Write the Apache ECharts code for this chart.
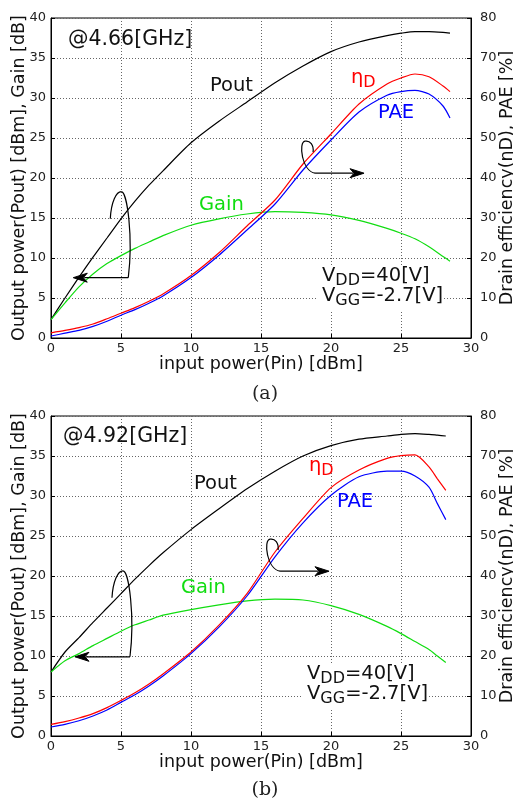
<!DOCTYPE html>
<html>
<head>
<meta charset="utf-8">
<script src="https://cdn.jsdelivr.net/npm/echarts@6/dist/echarts.min.js"></script>
<style>
html, body { margin: 0; padding: 0; background: #fff; }
#main { width: 513px; height: 804px; }
</style>
</head>
<body>
<div id="main"></div>
<script>
"use strict";
// (a) @4.66GHz
var pinA  = [0, 1, 2, 3, 4, 5, 6, 7, 8, 10, 12, 14, 16, 18, 20, 22, 24, 25, 26, 27, 28, 28.5];
var poutA = [2.3, 5.0, 7.6, 10.1, 12.5, 14.9, 17.1, 19.1, 20.9, 24.4, 27.1, 29.5, 31.9, 34.0, 35.8, 37.0, 37.8, 38.1, 38.3, 38.3, 38.2, 38.1];
var gainA = [2.3, 4.4, 6.4, 8.0, 9.3, 10.3, 11.2, 12.0, 12.8, 14.1, 14.9, 15.5, 15.8, 15.7, 15.4, 14.7, 13.7, 13.1, 12.4, 11.4, 10.2, 9.6];
var etaA  = [1.3, 1.9, 2.6, 3.5, 4.8, 6.2, 7.6, 9.2, 11.0, 15.6, 21.3, 28.0, 34.5, 43.5, 51.0, 58.5, 63.5, 65.0, 66.0, 65.3, 63.0, 61.6];
var paeA  = [0.5, 1.2, 1.9, 2.9, 4.2, 5.7, 7.1, 8.7, 10.5, 15.1, 20.7, 27.0, 33.5, 42.0, 49.5, 56.5, 60.7, 61.6, 61.9, 61.0, 58.0, 55.0];

// (b) @4.92GHz
var pinB  = [0, 1, 2, 3, 4, 5, 6, 7, 8, 10, 12, 14, 16, 18, 20, 22, 24, 25, 26, 27, 27.6, 28.2];
var poutB = [8.0, 10.5, 12.3, 14.2, 16.0, 17.8, 19.6, 21.3, 22.9, 25.8, 28.4, 30.9, 33.1, 35.0, 36.3, 37.1, 37.5, 37.7, 37.8, 37.7, 37.6, 37.5];
var gainB = [8.0, 9.4, 10.3, 11.3, 12.2, 13.1, 13.9, 14.5, 15.1, 15.8, 16.4, 16.9, 17.1, 17.0, 16.3, 15.2, 13.7, 12.8, 11.8, 10.8, 10.0, 9.2];
var etaB  = [2.9, 3.6, 4.5, 5.6, 7.1, 8.9, 10.8, 13.0, 15.5, 21.0, 27.7, 35.6, 46.0, 54.4, 62.1, 66.5, 69.4, 70.1, 70.3, 67.3, 64.3, 61.4];
var paeB  = [2.25, 2.9, 3.8, 5.0, 6.5, 8.4, 10.3, 12.5, 15.0, 20.6, 27.2, 35.0, 44.8, 53.3, 60.2, 64.8, 66.2, 66.2, 65.0, 62.2, 58.1, 54.1];

var freqLabels = ['@4.66[GHz]', '@4.92[GHz]'];
var captions = ['(a)', '(b)'];

var FONT = 'DejaVu Sans';
var GREEN = '#11dd11';
var GRIDLINE = { color: '#666', type: [1, 2], width: 1 };

function pairs(xs, ys) {
	return xs.map(function (x, i) { return [x, ys[i]]; });
}

function xAx(gi) {
	return {
		type: 'value', gridIndex: gi, min: 0, max: 30, interval: 5,
		name: 'input power(Pin) [dBm]', nameLocation: 'middle', nameGap: 17, nameMoveOverlap: false,
		nameTextStyle: { fontFamily: FONT, fontSize: 17.5, color: '#111' },
		axisLine: { lineStyle: { color: '#000', width: 1 } },
		axisTick: { inside: true, length: 4, lineStyle: { color: '#000' } },
		axisLabel: { fontFamily: FONT, fontSize: 13, color: '#222', margin: 4 },
		splitLine: { show: true, lineStyle: GRIDLINE }
	};
}

function yLeft(gi) {
	return {
		type: 'value', gridIndex: gi, position: 'left', min: 0, max: 40, interval: 5,
		name: 'Output power(Pout) [dBm], Gain [dB]', nameLocation: 'middle', nameGap: 23, nameMoveOverlap: false,
		nameRotate: 90,
		nameTextStyle: { fontFamily: FONT, fontSize: 17.5, color: '#111' },
		axisLine: { show: true, lineStyle: { color: '#000', width: 1 } },
		axisTick: { show: true, inside: true, length: 4, lineStyle: { color: '#000' } },
		axisLabel: { fontFamily: FONT, fontSize: 13, color: '#222', margin: 5 },
		splitLine: { show: true, lineStyle: GRIDLINE }
	};
}

function yRight(gi) {
	return {
		type: 'value', gridIndex: gi, position: 'right', min: 0, max: 80, interval: 10,
		name: 'Drain efficiency(ηD), PAE [%]', nameLocation: 'middle', nameGap: 27, nameMoveOverlap: false,
		nameRotate: 90,
		nameTextStyle: { fontFamily: FONT, fontSize: 17.5, color: '#111' },
		axisLine: { show: true, lineStyle: { color: '#000', width: 1 } },
		axisTick: { show: true, inside: true, length: 4, lineStyle: { color: '#000' } },
		axisLabel: { fontFamily: FONT, fontSize: 13, color: '#222', margin: 9 },
		splitLine: { show: false }
	};
}

function line(name, xi, yi, xs, ys, color) {
	return {
		name: name, type: 'line', xAxisIndex: xi, yAxisIndex: yi,
		data: pairs(xs, ys), showSymbol: false, smooth: 0.25,
		lineStyle: { color: color, width: 1.2 }, itemStyle: { color: color },
		animation: false, silent: true
	};
}

var myChart = echarts.init(document.getElementById('main'));
var option = {
	backgroundColor: '#fff',
	animation: false,
	grid: [
		{ left: 51, top: 18, width: 420, height: 320, show: true, borderColor: '#000', borderWidth: 1, containLabel: false, outerBoundsMode: 'none' },
		{ left: 51, top: 416, width: 420, height: 320, show: true, borderColor: '#000', borderWidth: 1, containLabel: false, outerBoundsMode: 'none' }
	],
	xAxis: [xAx(0), xAx(1)],
	yAxis: [yLeft(0), yRight(0), yLeft(1), yRight(1)],
	series: [
		line('Pout', 0, 0, pinA, poutA, '#000'),
		line('Gain', 0, 0, pinA, gainA, GREEN),
		line('ηD', 0, 1, pinA, etaA, '#ff0000'),
		line('PAE', 0, 1, pinA, paeA, '#0000ff'),
		line('Pout', 1, 2, pinB, poutB, '#000'),
		line('Gain', 1, 2, pinB, gainB, GREEN),
		line('ηD', 1, 3, pinB, etaB, '#ff0000'),
		line('PAE', 1, 3, pinB, paeB, '#0000ff')
	]
};
myChart.setOption(option);

// ---- annotations (text labels, loop arrows) ----
var g = [];
var measureCtx = document.createElement('canvas').getContext('2d');

function textWidth(t, size) {
	measureCtx.font = size + 'px "' + FONT + '"';
	return measureCtx.measureText(t).width;
}

function txt(x, y, text, color, size, extra) {
	var st = { x: x, y: y, text: text, fill: color, fontFamily: FONT, fontSize: size, align: 'left', verticalAlign: 'middle' };
	if (extra) { for (var k in extra) st[k] = extra[k]; }
	g.push({ type: 'text', z: 100, silent: true, style: st });
}

// text with a subscript part, e.g. V_DD (drawn as separate pieces)
function subText(x, y, main, sub, rest, color) {
	var w1 = textWidth(main, 19.5), w2 = textWidth(sub, 16);
	txt(x, y, main, color, 19.5);
	txt(x + w1, y + 5, sub, color, 16);
	if (rest) txt(x + w1 + w2, y, rest, color, 19.5);
}

function arrowHead(tip, dir) {
	// dir: +1 points right, -1 points left
	var l = 14, h = 4.5, n = 10;
	g.push({ type: 'polygon', z: 101, silent: true,
		shape: { points: [[tip[0], tip[1]], [tip[0] - dir * l, tip[1] - h], [tip[0] - dir * n, tip[1]], [tip[0] - dir * l, tip[1] + h]] },
		style: { fill: '#000', stroke: '#000', lineWidth: 1 } });
}

function bez(p0, c1, c2, p1) {
	g.push({ type: 'bezierCurve', z: 101, silent: true,
		shape: { x1: p0[0], y1: p0[1], cpx1: c1[0], cpy1: c1[1], cpx2: c2[0], cpy2: c2[1], x2: p1[0], y2: p1[1] },
		style: { stroke: '#000', lineWidth: 1.2, fill: null } });
}

function seg(a, b) {
	g.push({ type: 'line', z: 101, silent: true,
		shape: { x1: a[0], y1: a[1], x2: b[0], y2: b[1] },
		style: { stroke: '#000', lineWidth: 1.2 } });
}

function off(p, dx, dy) { return [p[0] + dx, p[1] + dy]; }

// loop that points to the left axis (corner at bottom right of loop)
function loopLeft(c, len) {
	bez(off(c, -18, -59), off(c, -17, -76), off(c, -12, -86), off(c, -7, -86));
	bez(off(c, -7, -86), off(c, -1, -86), off(c, 5, -40), off(c, 0, 0));
	seg(c, off(c, -len + 11, 0));
	arrowHead(off(c, -len, 0), -1);
}

// loop that points to the right axis (arrow starts at c)
function loopRight(c, len) {
	bez(off(c, -2, -21), off(c, -1, -28), off(c, -5, -33), off(c, -10, -32));
	bez(off(c, -10, -32), off(c, -17, -31), off(c, -13, -2), off(c, 0, 0));
	seg(c, off(c, len - 11, 0));
	arrowHead(off(c, len, 0), 1);
}

var leftLoopAt = [[5.52, 7.54], [5.64, 9.9]];
var rightLoopAt = [[18.86, 20.6], [16.36, 20.6]];

for (var i = 0; i < 2; i++) {
	var sIdx = i * 4;
	loopLeft(myChart.convertToPixel({ seriesIndex: sIdx }, leftLoopAt[i]), 55);
	loopRight(myChart.convertToPixel({ seriesIndex: sIdx }, rightLoopAt[i]), 49);
}

// top chart labels
txt(68, 40, freqLabels[0], '#111', 20.5);
txt(210, 86, 'Pout', '#111', 19.5);
subText(351, 78, 'η', 'D', '', '#ff0000');
txt(378, 113, 'PAE', '#0000ff', 19.5);
txt(199, 205, 'Gain', GREEN, 19.5);
g.push({ type: 'rect', z: 99, silent: true, shape: { x: 318, y: 266, width: 126, height: 44 }, style: { fill: '#fff' } });
subText(322, 276, 'V', 'DD', '=40[V]', '#111');
subText(322, 296, 'V', 'GG', '=-2.7[V]', '#111');
txt(265, 394, captions[0], '#222', 19, { align: 'center', fontFamily: 'DejaVu Serif' });

// bottom chart labels
txt(63, 437, freqLabels[1], '#111', 20.5);
txt(194, 484, 'Pout', '#111', 19.5);
subText(309, 466, 'η', 'D', '', '#ff0000');
txt(337, 502, 'PAE', '#0000ff', 19.5);
txt(181, 588, 'Gain', GREEN, 19.5);
g.push({ type: 'rect', z: 99, silent: true, shape: { x: 303, y: 664, width: 126, height: 44 }, style: { fill: '#fff' } });
subText(307, 674, 'V', 'DD', '=40[V]', '#111');
subText(307, 694, 'V', 'GG', '=-2.7[V]', '#111');
txt(265, 790, captions[1], '#222', 19, { align: 'center', fontFamily: 'DejaVu Serif' });

myChart.setOption({ graphic: g });
</script>
</body>
</html>
